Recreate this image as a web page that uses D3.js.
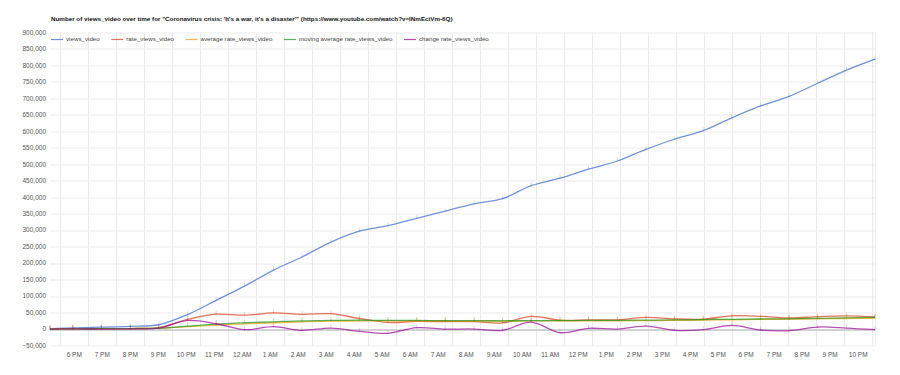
<!DOCTYPE html>
<html>
<head>
<meta charset="utf-8">
<script src="https://cdn.jsdelivr.net/npm/d3@7"></script>
<style>
    body { margin: 0; background: #fff; }
    svg text { font-family: "Liberation Sans", Arial, sans-serif; }
    .grid line { stroke: #ebebeb; stroke-width: 1; }
    .axis-label { fill: #555; font-size: 6.5px; }
    .legend-label { fill: #444; font-size: 6.2px; }
    .chart-title { fill: #111; font-size: 6.25px; font-weight: bold; }
    .series-line { fill: none; stroke-width: 1.3; stroke-opacity: 0.7; }
</style>
</head>
<body>
<div id="chart-area"></div>
<script>

// sample times (roughly hourly scraping)
let times = [
    "2020-03-17 17:08", "2020-03-17 17:57", "2020-03-17 18:58", "2020-03-17 20:00", "2020-03-17 21:01",
    "2020-03-17 22:03", "2020-03-17 23:04", "2020-03-18 00:05", "2020-03-18 01:07", "2020-03-18 02:08",
    "2020-03-18 03:10", "2020-03-18 04:11", "2020-03-18 05:12", "2020-03-18 06:14", "2020-03-18 07:15",
    "2020-03-18 08:17", "2020-03-18 09:18", "2020-03-18 10:19", "2020-03-18 11:21", "2020-03-18 12:22",
    "2020-03-18 13:24", "2020-03-18 14:25", "2020-03-18 15:26", "2020-03-18 16:28", "2020-03-18 17:29",
    "2020-03-18 18:31", "2020-03-18 19:32", "2020-03-18 20:33", "2020-03-18 21:35", "2020-03-18 22:36"
];

let viewsVideo = [
    1500, 3500, 5500, 8000, 13000, 44000, 87000, 130000, 179000, 218500,
    264000, 297000, 313500, 336000, 358000, 380000, 395500, 435000, 458000, 485000,
    510000, 545000, 576000, 602000, 641000, 677000, 706000, 746000, 786000, 819500
];

let rateViews = [
    0, 1000, 1000, 1500, 4500, 29000, 45000, 42000, 49000, 44600,
    46500, 32000, 20000, 23000, 22500, 22500, 18500, 38500, 27000, 28000,
    28000, 35500, 31000, 30000, 40000, 38500, 33500, 37500, 40000, 36500
];

let avgRate = [
    0, 500, 1000, 1500, 2500, 7000, 12000, 15500, 19000, 22000,
    24000, 24500, 24500, 24500, 24500, 24000, 24000, 24500, 24500, 25000,
    25000, 25500, 26000, 27000, 28000, 29000, 30000, 31000, 32000, 32500
];

let movingAvgRate = [
    0, 500, 1000, 1500, 2500, 8500, 15000, 19000, 22000, 25000,
    26000, 27000, 26000, 26000, 25500, 25500, 25000, 25500, 25500, 26000,
    26500, 27000, 27500, 28500, 29500, 30500, 31000, 32500, 34000, 35500
];

let changeRate = [
    0, 500, 0, 500, 3000, 26000, 16000, -2000, 7000, -4000,
    3000, -7000, -13000, 4000, 0, 0, -4000, 21000, -11000, 2000,
    0, 9000, -4000, -2000, 11000, -3000, -5000, 6000, 3000, -2000
];

let seriesNames = ["views_video", "rate_views_video", "average rate_views_video",
    "moving average rate_views_video", "change rate_views_video"];
let seriesColors = ["#3366cc", "#dc3912", "#ff9900", "#109618", "#990099"];

let yDomain = [-50000, 900000];
let yStep = 50000;

let titleText = "Number of views_video over time for \"Coronavirus crisis: 'It's a war, it's a disaster'\" (https://www.youtube.com/watch?v=lNmEciVm-6Q)";


class LineChart {

    constructor(parentElement, config) {
        this.parentElement = parentElement;
        this.config = config;

        this.initVis();
    }

    initVis() {
        let vis = this;

        vis.margin = {top: 32.5, right: 25, bottom: 29.5, left: 50};
        vis.width = 900 - vis.margin.left - vis.margin.right;
        vis.height = 375 - vis.margin.top - vis.margin.bottom;

        vis.root = d3.select("#" + vis.parentElement)
            .append("svg")
            .attr("width", 900)
            .attr("height", 375);

        vis.svg = vis.root.append("g")
            .attr("transform", "translate(" + vis.margin.left + "," + vis.margin.top + ")");

        vis.parseTime = d3.timeParse("%Y-%m-%d %H:%M");

        // Scales
        vis.x = d3.scaleTime().range([0, vis.width]);
        vis.y = d3.scaleLinear().domain(yDomain).range([vis.height, 0]);

        vis.line = d3.line()
            .x(d => vis.x(d.time))
            .y(d => vis.y(d.value))
            .curve(d3.curveCatmullRom.alpha(0.5));

        // Title
        vis.root.append("text")
            .attr("class", "chart-title")
            .attr("x", 51)
            .attr("y", 21)
            .text(titleText);

        vis.wrangleData();
    }

    wrangleData() {
        let vis = this;

        let parsed = times.map(vis.parseTime);
        let allValues = [viewsVideo, rateViews, avgRate, movingAvgRate, changeRate];

        vis.displayData = allValues.map(function (values, i) {
            return {
                name: seriesNames[i],
                color: seriesColors[i],
                values: values.map((v, j) => ({time: parsed[j], value: v}))
            };
        });

        vis.x.domain(d3.extent(parsed));

        vis.updateVis();
    }

    updateVis() {
        let vis = this;
        let t0 = vis.x.domain()[0], t1 = vis.x.domain()[1];

        // Horizontal gridlines + y labels
        let yTicks = d3.range(yDomain[0], yDomain[1] + 1, yStep);

        vis.svg.append("g").attr("class", "grid")
            .selectAll("line")
            .data(yTicks)
            .enter().append("line")
            .attr("x1", 0)
            .attr("x2", vis.width)
            .attr("y1", d => Math.round(vis.y(d)) + 0.5)
            .attr("y2", d => Math.round(vis.y(d)) + 0.5);

        // Vertical gridlines sit on the half hours, labels on the hours
        let hours = d3.timeHour.range(d3.timeHour.ceil(t0), t1);
        let gridTimes = d3.timeHour.range(d3.timeHour.floor(t0), t1)
            .map(d => d3.timeMinute.offset(d, 30))
            .filter(d => d >= t0 && d <= t1);

        vis.svg.append("g").attr("class", "grid")
            .selectAll("line")
            .data(gridTimes)
            .enter().append("line")
            .attr("x1", d => Math.round(vis.x(d)) + 0.5)
            .attr("x2", d => Math.round(vis.x(d)) + 0.5)
            .attr("y1", 0)
            .attr("y2", vis.height);

        // right edge gridline
        vis.svg.append("line")
            .attr("x1", vis.width + 0.5).attr("x2", vis.width + 0.5)
            .attr("y1", 0).attr("y2", vis.height)
            .attr("stroke", "#ebebeb");

        // zero baseline
        vis.svg.append("line")
            .attr("x1", 0).attr("x2", vis.width)
            .attr("y1", Math.round(vis.y(0)) + 0.5)
            .attr("y2", Math.round(vis.y(0)) + 0.5)
            .attr("stroke", "#b0b0b0");

        vis.svg.append("g")
            .selectAll("text")
            .data(yTicks)
            .enter().append("text")
            .attr("class", "axis-label")
            .attr("x", -4)
            .attr("y", d => vis.y(d))
            .attr("dy", "0.35em")
            .attr("text-anchor", "end")
            .text(d3.format(","));

        vis.svg.append("g")
            .selectAll("text")
            .data(hours)
            .enter().append("text")
            .attr("class", "axis-label")
            .attr("x", d => vis.x(d))
            .attr("y", vis.height + 9)
            .attr("dy", "0.35em")
            .attr("text-anchor", "middle")
            .text(d3.timeFormat("%-I %p"));

        // Lines, last series on top
        let series = vis.svg.append("g")
            .selectAll(".series")
            .data(vis.displayData)
            .enter().append("g")
            .attr("class", "series");

        series.append("path")
            .attr("class", "series-line")
            .attr("stroke", d => d.color)
            .attr("d", d => vis.line(d.values));

        // small point markers
        series.selectAll(".marker")
            .data(d => d.values.map(v => ({time: v.time, value: v.value, color: d.color})))
            .enter().append("line")
            .attr("class", "marker")
            .attr("x1", d => vis.x(d.time))
            .attr("x2", d => vis.x(d.time))
            .attr("y1", d => vis.y(d.value) - 3.5)
            .attr("y2", d => vis.y(d.value) + 1)
            .attr("stroke", d => d.color)
            .attr("stroke-opacity", 0.3)
            .attr("stroke-width", 0.7);

        // Legend
        let legend = vis.root.append("g").attr("transform", "translate(51,39)");
        let xPos = 0;
        vis.displayData.forEach(function (d) {
            let item = legend.append("g").attr("transform", "translate(" + xPos + ",0)");
            item.append("line")
                .attr("x1", 0).attr("x2", 12)
                .attr("y1", 0.5).attr("y2", 0.5)
                .attr("stroke", d.color)
                .attr("stroke-opacity", 0.7)
                .attr("stroke-width", 1.2);
            let label = item.append("text")
                .attr("class", "legend-label")
                .attr("x", 15)
                .attr("y", 0)
                .attr("dy", "0.35em")
                .text(d.name);
            xPos += 15 + label.node().getComputedTextLength() + 11.5;
        });
    }
}

let lineChart = new LineChart("chart-area", {});

</script>
</body>
</html>
